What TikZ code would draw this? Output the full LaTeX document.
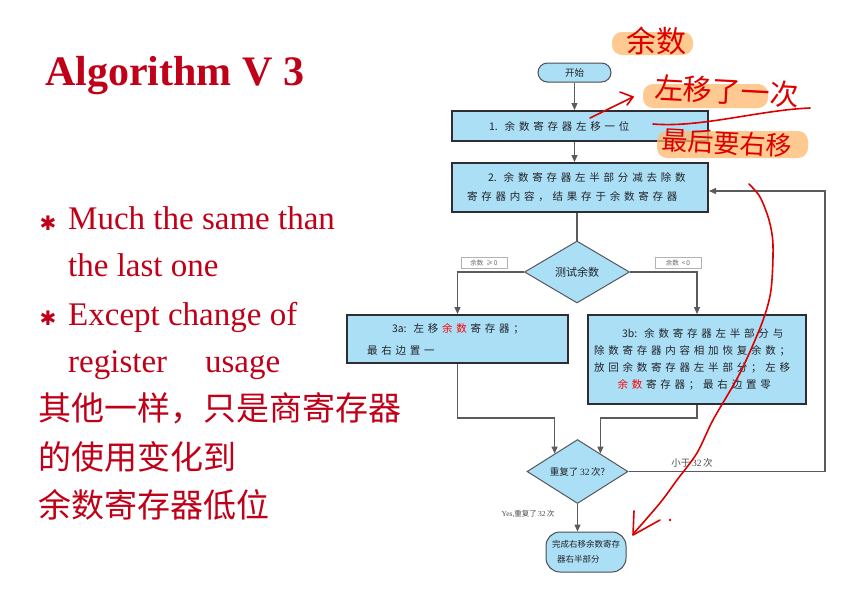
\documentclass[tikz,border=0pt]{standalone}
\usepackage{fontspec}
\setmainfont{Liberation Serif}
\newfontfamily\cjk{Noto Sans CJK SC}
\newfontfamily\cjksp[LetterSpace=36]{Noto Sans CJK SC}
\newfontfamily\dv{DejaVu Sans}
\usetikzlibrary{shapes.geometric,arrows.meta}
\definecolor{slred}{RGB}{192,0,24}
\definecolor{fcblue}{RGB}{170,223,246}
\definecolor{bord}{RGB}{45,45,50}
\definecolor{conn}{RGB}{90,90,95}
\definecolor{ink}{RGB}{220,0,0}
\definecolor{hl}{RGB}{255,185,110}
\definecolor{boxtxt}{RGB}{35,35,40}
\newcommand{\redrem}{\kern3.7pt{\color{red}余\kern3.7pt数}\kern3.7pt}
\begin{document}
\begin{tikzpicture}[x=1pt,y=-1pt,
  procbox/.style={draw=bord, line width=2pt, fill=fcblue, inner sep=0pt, align=left,
    font=\cjksp\fontsize{10.5}{19}\selectfont, text=boxtxt},
  term/.style={draw=bord!85, line width=1pt, fill=fcblue, inner sep=0pt, text=boxtxt},
  decide/.style={diamond, draw=bord!80, line width=1pt, fill=fcblue, inner sep=0pt, text=boxtxt},
  conline/.style={draw=conn, line width=1.2pt},
  arr/.style={conline, -{Triangle[length=7pt,width=6pt]}},
  tinylab/.style={draw=black!30, fill=white, inner sep=1pt, minimum width=46, minimum height=11,
    font=\cjk\fontsize{6.5}{7}\selectfont, text=black!60},
  slidetxt/.style={anchor=base west, text=slred, inner sep=0pt, font=\fontsize{33}{36}\selectfont},
  slidecjk/.style={anchor=base west, text=slred, inner sep=0pt, font=\cjk\fontsize{33}{36}\selectfont},
  hand/.style={text=ink, inner sep=0pt, font=\cjk},
  hlband/.style={fill=hl, opacity=0.75, rounded corners=10pt},
  inkline/.style={draw=ink, line width=1.6pt, line cap=round, line join=round}
]
\useasboundingbox (0,0) rectangle (844,598);
\fill[white] (0,0) rectangle (844,598);

% ---- slide text ----
\node[anchor=base west, text=slred, inner sep=0pt, font=\bfseries\fontsize{42}{46}\selectfont] (title) at (45,85) {Algorithm V 3};
\node[text=slred, inner sep=0pt, font=\dv\fontsize{20}{22}\selectfont] (bul1) at (48,223) {✱};
\node[text=slred, inner sep=0pt, font=\dv\fontsize{20}{22}\selectfont] (bul2) at (48,318) {✱};
\node[slidetxt] (t1) at (68,229) {Much the same than};
\node[slidetxt] (t2) at (68,276) {the last one};
\node[slidetxt] (t3) at (68,325) {Except change of};
\node[slidetxt] (t4) at (68,372) {register\hspace{38pt}usage};
\node[slidecjk] (c1) at (38,420) {其他一样，只是商寄存器};
\node[slidecjk] (c2) at (38,469) {的使用变化到};
\node[slidecjk] (c3) at (38,517) {余数寄存器低位};

% ---- flowchart ----
\node[term, rounded corners=9.5pt, minimum width=73, minimum height=19, font=\cjk\fontsize{9.5}{10}\selectfont] (start) at (574.5,72.5) {开始};
\node[procbox, text width=256, minimum height=30] (b1) at (580,126)
  {\hspace*{37pt}{\cjk 1.\ \ }余数寄存器左移一位};
\node[procbox, text width=256, minimum height=49] (b2) at (580,187.5)
  {\hspace*{36pt}{\cjk 2.\ \ }余数寄存器左半部分减去除数\\\hspace*{15pt}寄存器内容，结果存于余数寄存器};
\node[decide, minimum width=105, minimum height=62, font=\cjk\fontsize{11}{12}\selectfont] (d1) at (577,272) {测试余数};
\node[procbox, text width=221, minimum height=48, font=\cjksp\fontsize{10.5}{22}\selectfont] (b3a) at (457.5,339)
  {\hspace*{45pt}{\cjk 3a:\ \ }左移\redrem 寄存器；\\\hspace*{20pt}最右边置一};
\node[procbox, text width=218, minimum height=89, font=\cjksp\fontsize{10.5}{17}\selectfont] (b3b) at (697,359.5)
  {\hspace*{34pt}{\cjk 3b:\ \ }余数寄存器左半部分与\\\hspace*{6pt}除数寄存器内容相加恢复余数；\\\hspace*{6pt}放回余数寄存器左半部分；左移\\\hspace*{26pt}\redrem 寄存器；最右边置零\\[4pt]};
\node[decide, minimum width=101, minimum height=59, font=\cjk\fontsize{9.5}{10}\selectfont] (d2) at (577.5,471.5) {重复了\,{\rmfamily 32}\,次?};
\node[term, rounded corners=14pt, minimum width=80, minimum height=40, align=left,
  font=\cjk\fontsize{8.5}{15}\selectfont] (fin) at (586,552) {完成右移余数寄存\\\hspace*{5pt}器右半部分};

\node[tinylab] (lge) at (484,263) {余数\ \ ≥\,0};
\node[tinylab] (llt) at (678,263) {余数\ \ <\,0};
\node[inner sep=0pt, text=black!70, font=\cjk\fontsize{9.5}{10}\selectfont] (lless) at (692,463) {小于\,{\rmfamily 32}\,次};
\node[inner sep=0pt, text=black!70, font=\cjk\fontsize{7.5}{8}\selectfont] (lyes) at (528,514) {{\rmfamily Yes,}重复了\,{\rmfamily 32}\,次};

\coordinate (jy) at (0,418);
\coordinate (lp) at (825,191);

\draw[arr] (start.south) -- (start.south |- b1.north);
\draw[arr] (b1.south -| start.south) -- (b2.north -| start.south);
\draw[conline] (d1.north |- b2.south) -- (d1.north);
\draw[arr] (d1.west) -| (b3a.north);
\draw[arr] (d1.east) -| (b3b.north);
\draw[arr] (b3a.south) |- (d2.142 |- jy) -- (d2.142);
\draw[arr] (b3b.south) |- (d2.38 |- jy) -- (d2.38);
\draw[arr] (d2.east) -| (lp) -- (b2.east |- lp);
\draw[arr] (d2.south) -- (fin.north -| d2.south);

% ---- handwritten annotations ----
\fill[hlband] (612,32) rectangle (693,55);
\fill[hlband] (643,84) rectangle (768,108);
\fill[hlband] (657,131) rectangle (808,158);
\node[hand, font=\cjk\fontsize{30}{32}\selectfont] (h1) at (656,41) {余数};
\node[hand, font=\cjk\fontsize{29}{32}\selectfont, rotate=-3] (h2) at (727,91) {左移了一次};
\node[hand, font=\cjk\fontsize{26}{28}\selectfont, rotate=-3] (h3) at (727,143) {最后要右移};
\draw[inkline] (590,118) -- (633,97);
\draw[inkline] (620,92) -- (633,97) -- (627,105);
\draw[inkline] (653,124) .. controls (700,128) and (760,110) .. (810,108);
\draw[inkline] plot[smooth] coordinates {(749,184) (760,197) (769,220) (773,245) (771,290) (762,323) (740,373) (713,420) (697,453) (677,480) (660,503) (634,533)};
\draw[inkline] (634,511) -- (633,535) -- (660,520);
\fill[ink] (670,520) circle (1.3);
\end{tikzpicture}
\end{document}
